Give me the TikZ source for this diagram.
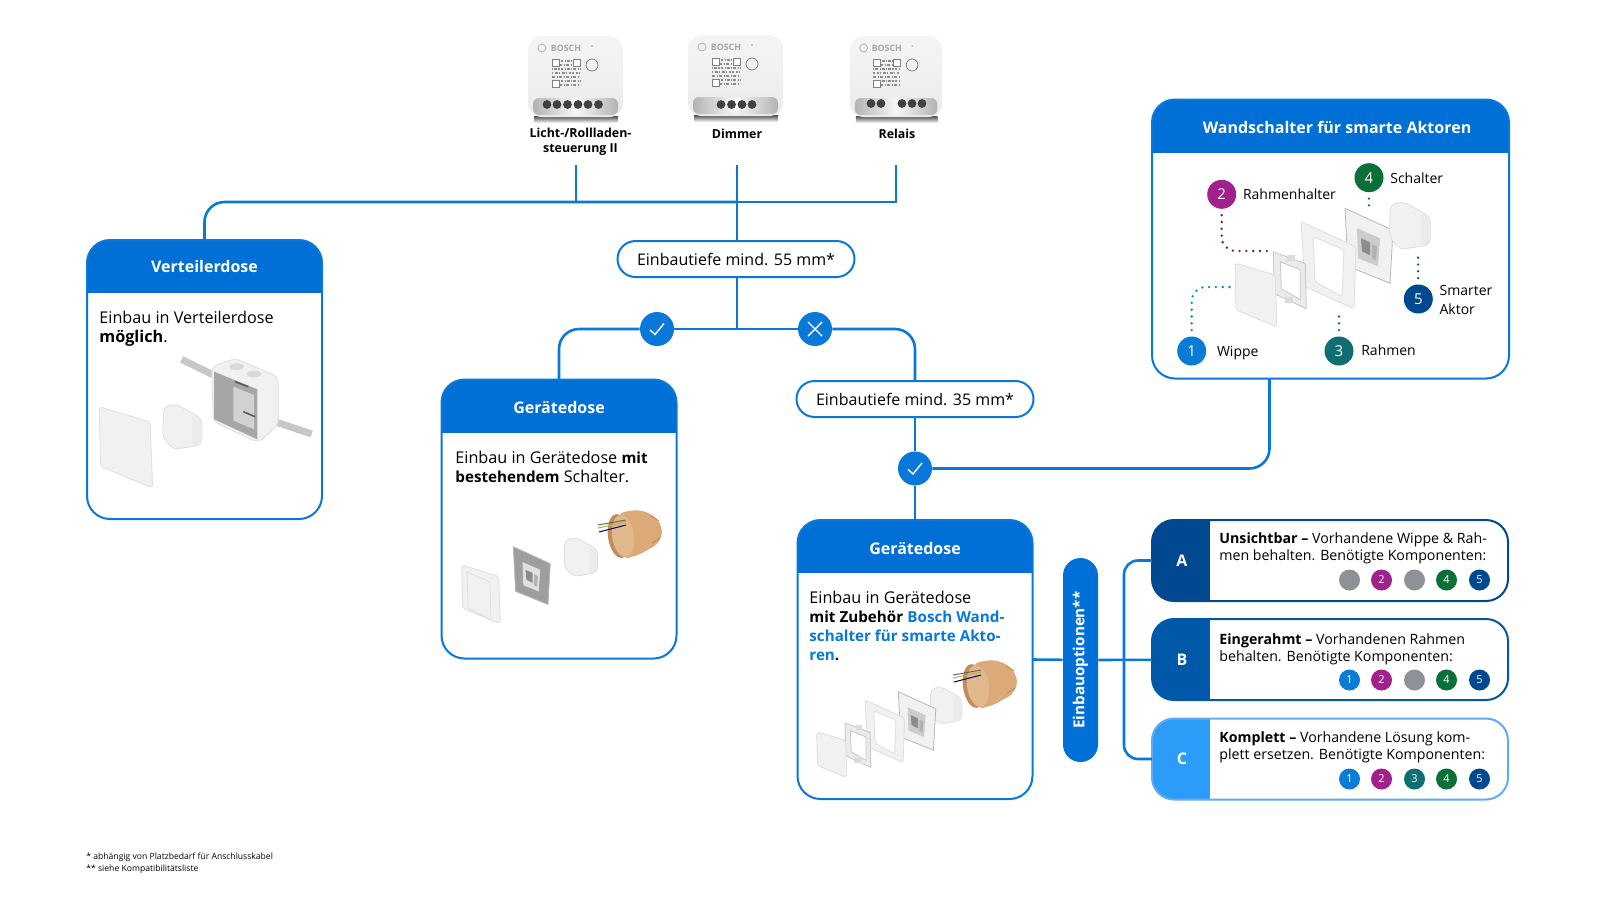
\documentclass[tikz,border=0pt]{standalone}
\usepackage{fontspec}
\setmainfont{Open Sans}
\usetikzlibrary{positioning}

\definecolor{linie}{HTML}{0A78D8}
\definecolor{kopf}{HTML}{0070D6}
\definecolor{opta}{HTML}{00488F}
\definecolor{optb}{HTML}{0058A8}
\definecolor{optc}{HTML}{2B9DF8}
\definecolor{optcrand}{HTML}{62ABF0}
\definecolor{eins}{HTML}{0A7CD8}
\definecolor{zwei}{HTML}{A0208C}
\definecolor{drei}{HTML}{0E6E72}
\definecolor{vier}{HTML}{0A7038}
\definecolor{fuenf}{HTML}{00498F}
\definecolor{leer}{HTML}{8E9298}
\definecolor{teil}{HTML}{F1F1F1}
\definecolor{teilrand}{HTML}{DEDEDE}
\definecolor{topf}{HTML}{DCAA78}
\definecolor{topfinnen}{HTML}{C08C58}

\newcommand{\fett}[1]{{\fontsize{7.6}{9.5}\selectfont\bfseries #1}}

\tikzset{
  pics/wippe/.style={code={
    \fill[teil, draw=teilrand, rounded corners=1.5pt] (0,0) -- (40,12) -- (42,64) -- (1,47) -- cycle;
  }},
  pics/halter/.style={code={
    \fill[black!8, draw=black!22, even odd rule] (0,0) -- (32,12) -- (33,57) -- (1,42) -- cycle
      (7,10) -- (27,18) -- (27,48) -- (8,37) -- cycle;
    \fill[black!14] (14,3) rectangle (22,9);
    \fill[black!14] (12,45) rectangle (20,51);
  }},
  pics/rahmen/.style={code={
    \fill[teil, draw=teilrand, even odd rule, rounded corners=1pt] (0,0) -- (55,25) -- (53,87) -- (4,65) -- cycle
      (12,15) -- (43,28) -- (41,75) -- (14,60) -- cycle;
  }},
  pics/einsatz/.style 2 args={code={
    \fill[#1, draw=black!28] (0,0) -- (48,22) -- (45,75) -- (3,58) -- cycle;
    \fill[#2] (12,20) -- (35,30) -- (33,58) -- (13,50) -- cycle;
    \fill[black!45] (16,30) -- (25,34) -- (25,47) -- (17,43) -- cycle;
    \fill[black!30] (27,36) -- (32,38) -- (31,52) -- (27,50) -- cycle;
  }},
  pics/aktor/.style={code={
    \fill[teil, draw=teilrand, rounded corners=2.5pt] (1,3) -- (14,0) -- (41,15) -- (41,43) -- (11,48) -- (0,35) -- cycle;
    \fill[black!8, rounded corners=1pt] (31,11) -- (40,16) -- (40,42) -- (31,44) -- cycle;
  }},
  pics/topfdose/.style={code={
    \fill[topf, rounded corners=5pt] (18,3) -- (45,-1) -- (64,12) -- (64,32) -- (35,48) -- (22,48) -- cycle;
    \fill[topfinnen, rotate around={8:(21,26)}] (21,26) ellipse (11 and 22);
    \fill[topf!85!white, rotate around={8:(25,26)}] (25,26) ellipse (11 and 21);
    \draw[topfinnen, line width=.5pt] (53,6) -- (61,11);
    \draw[topfinnen, line width=.5pt] (54,33) -- (62,28);
    \draw[black!60, line width=.5pt] (0,15) -- (28,10);
    \draw[yellow!70!black, line width=.5pt] (0,18) -- (28,12);
    \draw[blue!40!black, line width=.5pt] (1,22) -- (28,15);
  }},
  pics/steuerung/.style={code={
    \shade[top color=black!70, bottom color=white] (6,80) rectangle (90,87);
    \shade[top color=black!4, bottom color=black!8, rounded corners=7pt] (0,0) rectangle (95,81);
    \draw[black!30, line width=.4pt] (14,12) circle (4);
    \node (bosch) at (38,12) [text=black!35, inner sep=0, font=\bfseries\fontsize{4.4}{5}\selectfont] {BOSCH};
    \fill[black!40] (64,10) circle (.8);
    \draw[black!45, line width=.7pt, dash pattern=on .6pt off .5pt on 1.4pt off .7pt] (24,25) -- (52,25);
    \draw[black!45, line width=.7pt, dash pattern=on 1.6pt off .7pt on .6pt off .6pt] (24,29) -- (52,29);
    \draw[black!45, line width=.7pt, dash pattern=on .6pt off .5pt on 1.4pt off .7pt] (24,33) -- (52,33);
    \draw[black!45, line width=.7pt, dash pattern=on .7pt off 1pt on 1.2pt off .5pt] (24,37) -- (52,37);
    \draw[black!45, line width=.7pt, dash pattern=on 1.6pt off .7pt on .6pt off .6pt] (24,41) -- (52,41);
    \draw[black!45, line width=.7pt, dash pattern=on .6pt off .5pt on 1.4pt off .7pt] (24,45) -- (52,45);
    \draw[black!45, line width=.7pt, dash pattern=on 1.6pt off .7pt on .6pt off .6pt] (24,49) -- (52,49);
    \fill[white, draw=black!50, line width=.4pt] (24,23) rectangle (31,30);
    \fill[white, draw=black!50, line width=.4pt] (45,23) rectangle (52,30);
    \fill[white, draw=black!50, line width=.4pt] (24,44) rectangle (31,51);
    \draw[black!50, line width=.4pt] (64,29) circle (6);
    \shade[left color=black!30, right color=black!30, middle color=black!3, rounded corners=3pt] (5,62) rectangle (90,79);
  }}
}

\begin{document}
\begin{tikzpicture}[x=0.5pt, y=-0.5pt,
  leitung/.style = {draw=linie, line width=1.3pt},
  karte/.style = {draw=linie, line width=1pt, rounded corners=11.5pt, inner sep=0, outer sep=0, minimum width=117.5pt, minimum height=139.5pt,
    path picture={\fill[kopf, sharp corners] (path picture bounding box.north west) rectangle ([yshift=-26.5pt]path picture bounding box.north east);}},
  kopftext/.style = {text=white, inner sep=0, text height=.72em, text depth=0pt, font=\bfseries\fontsize{8}{9.5}\selectfont},
  inhalt/.style = {anchor=north west, align=left, inner sep=0, font=\fontsize{8.1}{9.5}\selectfont},
  optkarte/.style = {draw=#1, line width=1pt, rounded corners=11pt, inner sep=0, outer sep=0, minimum width=178pt, minimum height=40.5pt,
    path picture={\fill[#1, sharp corners] (path picture bounding box.north west) rectangle ([xshift=29pt]path picture bounding box.south west);}},
  opttext/.style = {anchor=north west, align=left, inner sep=0, font=\fontsize{7.1}{8.5}\selectfont},
  buchstabe/.style = {text=white, inner sep=0, font=\bfseries\fontsize{8}{9}\selectfont},
  pille/.style = {draw=linie, line width=1pt, fill=white, rounded corners=9pt, inner sep=0, minimum width=118.5pt, minimum height=18pt, font=\fontsize{8}{9.5}\selectfont},
  haken/.style = {circle, fill=linie, minimum size=17pt, inner sep=0},
  zeichen/.style = {draw=white, line width=.7pt},
  nummer/.style = {circle, fill=#1, text=white, minimum size=14.5pt, inner sep=0, font=\fontsize{7.5}{9}\selectfont},
  klein/.style = {circle, fill=#1, text=white, minimum size=10.5pt, inner sep=0, font=\fontsize{5.5}{7}\selectfont},
  punkte/.style = {draw=#1, line width=1.3pt, line cap=round, dash pattern=on 0pt off 3.4pt, rounded corners=7pt, shorten <=3pt},
  beschriftung/.style = {inner sep=0, font=\fontsize{7}{9.4}\selectfont},
  geraetname/.style = {align=center, inner sep=0, font=\bfseries\fontsize{6.2}{7.5}\selectfont},
  klemme/.style = {fill=black!75}]
\useasboundingbox (0,0) rectangle (1600,900);
\fill[white] (0,0) rectangle (1600,900);

\pic at (528,36) {steuerung};
\pic at (688,35) {steuerung};
\pic[xscale=.97] at (850,36) {steuerung};
\fill[klemme] (547,104.5) circle (4.4);
\fill[klemme] (557,104.5) circle (4.4);
\fill[klemme] (567.5,104.5) circle (4.4);
\fill[klemme] (578,104.5) circle (4.4);
\fill[klemme] (588,104.5) circle (4.4);
\fill[klemme] (598.5,104.5) circle (4.4);
\fill[klemme] (721,104.5) circle (4.4);
\fill[klemme] (731.5,104.5) circle (4.4);
\fill[klemme] (742,104.5) circle (4.4);
\fill[klemme] (752,104.5) circle (4.4);
\fill[klemme] (871,103.5) circle (4.4);
\fill[klemme] (881,103.5) circle (4.4);
\fill[klemme] (902,103.5) circle (4.4);
\fill[klemme] (912,103.5) circle (4.4);
\fill[klemme] (922,103.5) circle (4.4);

\node (licht) at (580.5,141.5) [geraetname] {Licht-/Rollladen-\\steuerung II};
\node (dimmer) at (737,134) [geraetname] {Dimmer};
\node (relais) at (897,134) [geraetname] {Relais};
\coordinate (oben1) at (576,165);
\coordinate (oben2) at (737,165);
\coordinate (oben3) at (896,165);
\coordinate (bus) at (737,202);

\node (verteiler) at (204.5,379.5) [karte] {};
\node (verteilerkopf) at ([yshift=-12.5pt]verteiler.north) [kopftext] {Verteilerdose};
\node (verteilertext) at (99,311) [inhalt] {Einbau in Verteilerdose\\\textbf{möglich}.};

\node (tiefe55) at (736,259) [pille] {Einbautiefe mind. 55 mm*};
\coordinate (split) at (737,329);
\node (ok1) at (657,329) [haken] {};
\node (nein) at (815,329) [haken] {};

\node (geraet1) at (559,519) [karte] {};
\node (geraet1kopf) at ([yshift=-13.5pt]geraet1.north) [kopftext] {Gerätedose};
\node (geraet1text) at (455,451) [inhalt] {Einbau in Gerätedose \fett{mit}\\\fett{bestehendem} Schalter.};

\node (tiefe35) at (915,399) [pille] {Einbautiefe mind. 35 mm*};
\node (ok2) at (915,468.5) [haken] {};

\node (geraet2) at (915,659.5) [karte] {};
\node (geraet2kopf) at ([yshift=-13.5pt]geraet2.north) [kopftext] {Gerätedose};
\node (geraet2text) at (809,591) [inhalt] {Einbau in Gerätedose\\\fett{mit Zubehör} \textcolor{linie}{\fett{Bosch Wand-}}\\\textcolor{linie}{\fett{schalter für smarte Akto-}}\\\textcolor{linie}{\fett{ren}}\fett{.}};

\node (wandschalter) at (1330.5,239) [karte, minimum width=178.5pt] {};
\node (wandkopf) at (1337,126.5) [kopftext] {Wandschalter für smarte Aktoren};

\node (optpille) at (1080.5,660) [rotate=90, fill=kopf, rounded corners=8.75pt, inner sep=0, minimum width=102pt, minimum height=17.5pt, text=white, font=\bfseries\fontsize{7.6}{9}\selectfont] {Einbauoptionen**};

\node (opta) at (1330,560.5) [optkarte=opta] {};
\node (optb) at (1330,659.5) [optkarte=optb] {};
\node (optc) at (1330,759) [optkarte=optc, draw=optcrand] {};
\node (buchstabea) at (1182,561) [buchstabe] {A};
\node (buchstabeb) at (1182,660) [buchstabe] {B};
\node (buchstabec) at (1182,759) [buchstabe] {C};
\node (opttexta) at (1219,532) [opttext] {\textbf{Unsichtbar –} Vorhandene Wippe \& Rah-\\men behalten. Benötigte Komponenten:};
\node (opttextb) at (1219,633) [opttext] {\textbf{Eingerahmt –} Vorhandenen Rahmen\\behalten. Benötigte Komponenten:};
\node (opttextc) at (1219,731) [opttext] {\textbf{Komplett –} Vorhandene Lösung kom-\\plett ersetzen. Benötigte Komponenten:};

\node (a1) at (1349.5,580) [klein=leer] {};
\node (a2) at (1381.5,580) [klein=zwei] {2};
\node (a3) at (1414.5,580) [klein=leer] {};
\node (a4) at (1446.5,580) [klein=vier] {4};
\node (a5) at (1479.5,580) [klein=fuenf] {5};
\node (b1) at (1349.5,680) [klein=eins] {1};
\node (b2) at (1381.5,680) [klein=zwei] {2};
\node (b3) at (1414.5,680) [klein=leer] {};
\node (b4) at (1446.5,680) [klein=vier] {4};
\node (b5) at (1479.5,680) [klein=fuenf] {5};
\node (c1) at (1349.5,779) [klein=eins] {1};
\node (c2) at (1381.5,779) [klein=zwei] {2};
\node (c3) at (1414.5,779) [klein=drei] {3};
\node (c4) at (1446.5,779) [klein=vier] {4};
\node (c5) at (1479.5,779) [klein=fuenf] {5};

% Leitungen
\draw[leitung, rounded corners=10pt] (verteiler.north) |- (bus);
\draw[leitung] (oben1) -- (oben1 |- bus);
\draw[leitung] (oben3) |- (bus);
\draw[leitung] (oben2) -- (tiefe55.north -| oben2);
\draw[leitung] (tiefe55.south -| split) -- (split);
\draw[leitung, rounded corners=10pt] (geraet1.north) |- (ok1);
\draw[leitung] (ok1) -- (nein);
\draw[leitung, rounded corners=10pt] (nein) -| (tiefe35.north);
\draw[leitung] (tiefe35) -- (ok2);
\draw[leitung] (ok2) -- (geraet2);
\draw[leitung, rounded corners=10pt] (ok2) -| ([xshift=-30.5pt]wandschalter.south);
\draw[leitung] (geraet2.east) -- (optpille);
\draw[leitung] (optpille) -- (optb);
\coordinate (klammer) at (1124,660);
\draw[leitung, rounded corners=7pt] (opta.west) -| (klammer) |- (optc.west);

\draw[zeichen] ([shift={(-7,1)}]ok1.center) -- ([shift={(-2,5.5)}]ok1.center) -- ([shift={(7,-5.5)}]ok1.center);
\draw[zeichen] ([shift={(-7,1)}]ok2.center) -- ([shift={(-2,5.5)}]ok2.center) -- ([shift={(7,-5.5)}]ok2.center);
\draw[zeichen] ([shift={(-7,-7)}]nein.center) -- ([shift={(7,7)}]nein.center);
\draw[zeichen] ([shift={(-7,7)}]nein.center) -- ([shift={(7,-7)}]nein.center);

% Verteilerdose
\begin{scope}[shift={(70,230)}, scale=1/3]
\draw[black!22, line width=3.5pt] (335,388) -- (440,440);
\draw[black!22, line width=3.5pt] (600,570) -- (725,612);
\fill[teil, draw=teilrand, rounded corners=3pt] (425,410) -- (495,385) -- (625,440) -- (625,585) -- (565,638) -- (430,575) -- cycle;
\fill[black!35] (432,425) -- (562,478) -- (562,628) -- (432,568) -- cycle;
\fill[black!18] (490,470) -- (552,495) -- (552,598) -- (490,572) -- cycle;
\draw[black!65, line width=.8pt] (495,455) -- (535,470);
\draw[black!65, line width=.8pt] (520,545) -- (555,560);
\fill[black!15] (500,410) ellipse (22 and 10);
\fill[black!15] (552,432) ellipse (22 and 10);
\end{scope}
\pic[scale=1.27] at (99.3,406.7) {wippe};
\pic[scale=.95] at (162.7,404) {aktor};

% Geraetedose mit Schalter
\pic at (598,510) {topfdose};
\pic[scale=.82] at (564,537.3) {aktor};
\pic[scale=.77] at (513.3,546.7) {einsatz={black!38}{black!12}};
\pic[scale=.92] at (461.7,565) {wippe};
\draw[teilrand] (467,572) -- (490,582) -- (491,620) -- (468,608) -- cycle;

% Geraetedose mit Zubehoer
\pic at (953,660) {topfdose};
\pic[scale=.78] at (930,686.7) {aktor};
\pic[scale=.78] at (898.3,691.7) {einsatz={teil}{black!20}};
\pic[scale=.72] at (865,700) {rahmen};
\pic[scale=.78] at (845,723) {halter};
\pic[scale=.72] at (816.7,731.7) {wippe};

% Wandschalter
\pic at (1345,208.3) {einsatz={teil}{black!20}};
\pic at (1389.3,201.7) {aktor};
\pic at (1301,221.7) {rahmen};
\pic at (1273.3,251.7) {halter};
\pic at (1235,263) {wippe};

\node (num1) at (1191.7,351) [nummer=eins] {1};
\node (num2) at (1221.7,194.3) [nummer=zwei] {2};
\node (num3) at (1339,351) [nummer=drei] {3};
\node (num4) at (1369,177.7) [nummer=vier] {4};
\node (num5) at (1418.3,299) [nummer=fuenf] {5};
\node (wippetext) [beschriftung, right=5pt of num1, yshift=-1pt] {Wippe};
\node (haltertext) [beschriftung, right=3pt of num2] {Rahmenhalter};
\node (rahmentext) [beschriftung, right=3.5pt of num3, yshift=.5pt] {Rahmen};
\node (schaltertext) [beschriftung, right=3pt of num4, yshift=-.3pt] {Schalter};
\node (aktortext) [beschriftung, align=left, right=3pt of num5, yshift=-.5pt] {Smarter\\Aktor};
\coordinate (wippeende) at (1232,287);
\coordinate (halterende) at (1268,251);
\coordinate (rahmenende) at (1339,310);
\coordinate (schalterende) at (1369,212);
\coordinate (aktorende) at (1418,255);
\draw[punkte=eins!85!teal] (num1) |- (wippeende);
\draw[punkte=zwei!70!black] (num2) |- (halterende);
\draw[punkte=drei] (num3) -- (rahmenende);
\draw[punkte=vier!60!drei] (num4) -- (schalterende);
\draw[punkte=fuenf!60!drei] (num5) -- (aktorende);

\node (fussnote) at (86,853) [inhalt, font=\fontsize{4.3}{6}\selectfont] {* abhängig von Platzbedarf für Anschlusskabel\\** siehe Kompatibilitätsliste};
\end{tikzpicture}
\end{document}
